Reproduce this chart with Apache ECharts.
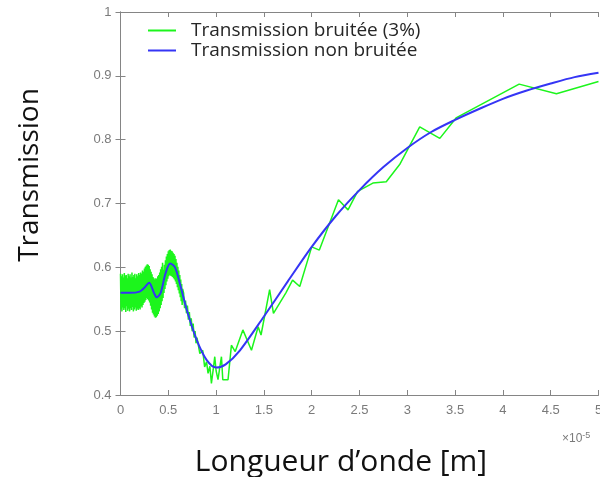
<!DOCTYPE html>
<html>
<head>
<meta charset="utf-8">
<script src="https://cdn.jsdelivr.net/npm/echarts@6/dist/echarts.min.js"></script>
<style>html,body{margin:0;padding:0;background:#fff}#c{width:600px;height:477px}</style>
</head>
<body>
<div id="c"></div>
<script>
// x in units of 1e-5 m
var xTicks = ['0','0.5','1','1.5','2','2.5','3','3.5','4','4.5','5'];
var yTicks = ['0.4','0.5','0.6','0.7','0.8','0.9','1'];
var seriesNames = ['Transmission bruitée (3%)', 'Transmission non bruitée'];
var xAxisTitle = 'Longueur d\u2019onde [m]';
var yAxisTitle = 'Transmission';

var cleanX = [0,0.1,0.2,0.25,0.3,0.35,0.38,0.42,0.47,0.52,0.57,0.62,0.7,0.8,0.9,1.0,1.1,1.25,1.5,1.75,2.0,2.25,2.5,2.75,3.0,3.25,3.5,3.75,4.0,4.25,4.5,4.75,5.0];
var cleanY = [0.560,0.560,0.562,0.568,0.576,0.560,0.553,0.560,0.590,0.606,0.600,0.575,0.530,0.485,0.455,0.443,0.448,0.470,0.523,0.578,0.632,0.680,0.721,0.757,0.787,0.812,0.831,0.848,0.864,0.877,0.888,0.898,0.905];

var noisyX = [
  0.000,0.005,0.010,0.015,0.020,0.025,0.030,0.035,0.040,0.045,0.050,0.055,0.060,0.065,0.070,0.075,0.080,0.085,0.090,0.095,
  0.100,0.105,0.110,0.115,0.120,0.125,0.130,0.135,0.140,0.145,0.150,0.155,0.160,0.165,0.170,0.175,0.180,0.185,0.190,0.195,
  0.200,0.205,0.210,0.215,0.220,0.225,0.230,0.235,0.240,0.245,0.250,0.255,0.260,0.265,0.270,0.275,0.280,0.285,0.290,0.295,
  0.300,0.305,0.310,0.315,0.320,0.325,0.330,0.335,0.340,0.345,0.350,0.355,0.360,0.365,0.370,0.375,0.380,0.385,0.390,0.395,
  0.400,0.405,0.410,0.415,0.420,0.425,0.430,0.435,0.440,0.445,
  0.450,0.455,0.460,0.465,0.470,0.475,0.480,0.485,0.490,0.495,0.500,0.505,0.510,0.515,0.520,0.525,0.530,0.535,0.540,0.545,
  0.550,0.555,0.560,0.565,0.570,0.575,0.580,0.585,0.590,0.595,0.600,0.605,0.610,0.615,0.620,0.625,0.630,0.635,0.640,0.645,0.650,
  0.66,0.67,0.68,0.69,0.70,0.71,0.72,0.73,0.74,0.75,0.76,0.77,0.78,0.79,0.80,
  0.83,0.86,0.88,0.90,0.916,0.935,0.951,0.97,0.986,1.0,1.02,1.04,1.056,1.07,1.125,1.16,1.20,1.28,1.37,1.44,1.47,1.56,1.60,1.73,1.80,1.875,2.0,2.08,2.28,2.38,2.48,2.64,2.78,2.92,3.02,3.13,3.34,3.51,4.17,4.56,5.0];
var noisyY = [
  0.590,0.534,0.586,0.531,0.589,0.537,0.584,0.533,0.591,0.536,0.587,0.530,0.588,0.539,0.583,0.532,0.590,0.535,0.586,0.531,
  0.589,0.536,0.584,0.533,0.592,0.538,0.585,0.531,0.588,0.534,0.590,0.537,0.583,0.532,0.589,0.535,0.586,0.533,0.591,0.536,
  0.588,0.534,0.592,0.539,0.590,0.537,0.595,0.541,0.593,0.544,0.598,0.546,0.601,0.549,0.603,0.552,0.605,0.550,0.604,0.548,
  0.602,0.545,0.597,0.540,0.593,0.534,0.589,0.529,0.585,0.526,0.583,0.523,0.581,0.521,0.583,0.522,0.582,0.524,0.586,0.527,
  0.588,0.531,0.592,0.536,0.597,0.541,0.601,0.547,0.607,0.552,
  0.596,0.560,0.604,0.566,0.611,0.572,0.617,0.578,0.621,0.582,0.625,0.586,0.627,0.588,0.628,0.587,0.626,0.586,0.625,0.585,
  0.623,0.583,0.621,0.581,0.618,0.578,0.613,0.574,0.607,0.569,0.601,0.564,0.595,0.559,0.588,0.553,0.581,0.547,0.574,0.541,0.566,
  0.560,0.536,0.548,0.528,0.540,0.518,0.530,0.508,0.520,0.500,0.512,0.490,0.500,0.481,0.490,
  0.465,0.470,0.444,0.452,0.434,0.445,0.418,0.440,0.460,0.438,0.424,0.445,0.460,0.424,0.424,0.478,0.468,0.502,0.470,0.507,0.494,0.565,0.528,0.560,0.580,0.570,0.632,0.627,0.706,0.690,0.719,0.732,0.734,0.761,0.789,0.820,0.802,0.834,0.887,0.872,0.891];

function pairs(xs, ys){ var out=[]; for (var i=0;i<xs.length;i++) out.push([xs[i], ys[i]]); return out; }

var axisColor = '#858585';
var labelStyle = {color:'#7a7a7a', fontSize:13, fontFamily:'Liberation Sans, Arial, sans-serif'};
var chart = echarts.init(document.getElementById('c'), null, {renderer:'canvas'});
chart.setOption({
  animation:false,
  backgroundColor:'#ffffff',
  grid:{left:120.5, right:1.5, top:12, bottom:82, outerBoundsMode:'none', containLabel:false},
  legend:{
    left:143, top:16, orient:'vertical', itemGap:1, itemWidth:28, itemHeight:2, icon:'rect',
    textStyle:{color:'#262626', fontSize:19, fontFamily:'Open Sans, sans-serif', padding:[0,0,0,10]},
    data:seriesNames
  },
  xAxis:[{
    type:'value', min:0, max:5, interval:0.5,
    axisLine:{lineStyle:{color:axisColor, width:1}},
    axisTick:{inside:true, length:5, lineStyle:{color:axisColor}},
    axisLabel:Object.assign({margin:9, formatter:function(v){ var i=Math.round(v*2); return xTicks[i]; }}, labelStyle),
    splitLine:{show:false}
  },{
    type:'value', position:'top', min:0, max:5, interval:0.5,
    axisLine:{show:true, lineStyle:{color:axisColor, width:1}},
    axisTick:{show:true, inside:true, length:5, lineStyle:{color:axisColor}},
    axisLabel:{show:false}, splitLine:{show:false}
  }],
  yAxis:[{
    type:'value', min:0.4, max:1, interval:0.1,
    axisLine:{show:true, lineStyle:{color:axisColor, width:1}},
    axisTick:{show:true, inside:true, length:5, lineStyle:{color:axisColor}},
    axisLabel:Object.assign({margin:9, formatter:function(v){ var i=Math.round((v-0.4)*10); return yTicks[i]; }}, labelStyle),
    splitLine:{show:false}
  },{
    type:'value', position:'right', min:0.4, max:1, interval:0.1,
    axisLine:{show:true, lineStyle:{color:axisColor, width:1}},
    axisTick:{show:true, inside:true, length:5, lineStyle:{color:axisColor}},
    axisLabel:{show:false}, splitLine:{show:false}
  }],
  graphic:[{
    type:'text', x:341, y:462,
    style:{text:xAxisTitle, fill:'#111', font:'30px Open Sans, sans-serif', align:'center', verticalAlign:'middle'}
  },{
    type:'text', x:30, y:175, rotation:Math.PI/2,
    style:{text:yAxisTitle, fill:'#111', font:'28px Open Sans, sans-serif', align:'center', verticalAlign:'middle'}
  },{
    type:'text', x:562, y:431,
    style:{text:'\u00d710{sup|-5}', fill:'#7a7a7a', font:'12px Liberation Sans, Arial, sans-serif',
      rich:{sup:{fontSize:9, verticalAlign:'top', padding:[0,0,7,0], fill:'#7a7a7a', fontFamily:'Liberation Sans, Arial, sans-serif'}}}
  }],
  series:[{
    name:seriesNames[0], type:'line', symbol:'none', data:pairs(noisyX, noisyY),
    lineStyle:{color:'#1cf51c', width:1.5}, itemStyle:{color:'#1cf51c'}
  },{
    name:seriesNames[1], type:'line', symbol:'none', smooth:0.3, data:pairs(cleanX, cleanY),
    lineStyle:{color:'#3535f5', width:2}, itemStyle:{color:'#3535f5'}
  }]
});
</script>
</body>
</html>
